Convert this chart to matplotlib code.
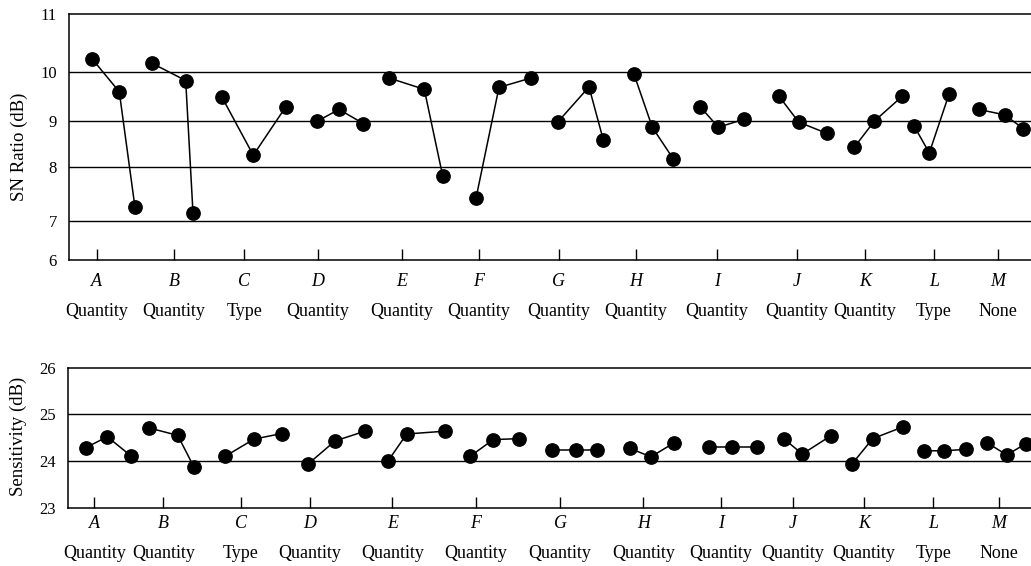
"""
Factor effect plots: SN ratio and sensitivity for factors A-M
"""

import matplotlib
matplotlib.use('Agg')
import matplotlib.pyplot as plt
import numpy as np

# Factors and their kind
factors = ['A', 'B', 'C', 'D', 'E', 'F', 'G', 'H', 'I', 'J', 'K', 'L', 'M']
factor_types = ['Quantity', 'Quantity', 'Type', 'Quantity', 'Quantity', 'Quantity',
                'Quantity', 'Quantity', 'Quantity', 'Quantity', 'Quantity', 'Type', 'None']

# SN ratio (dB), three levels per factor
sn_ratio = [
    [10.22, 9.59, 7.25], [10.15, 9.82, 7.15], [9.49, 8.26, 9.29],
    [8.99, 9.23, 8.94], [9.87, 9.64, 7.84], [7.42, 9.68, 9.87],
    [8.97, 9.69, 8.59], [9.95, 8.86, 8.18], [9.29, 8.86, 9.03],
    [9.50, 8.97, 8.73], [8.43, 8.99, 9.50], [8.89, 8.31, 9.54],
    [9.23, 9.12, 8.83],
]
# horizontal position of each level along the axis (as drawn in the source)
sn_level_x = [
    [2.30, 5.00, 6.57], [8.24, 11.64, 12.37], [15.24, 18.40, 21.67],
    [24.80, 26.97, 29.40], [32.00, 35.50, 37.34], [40.67, 42.97, 46.14],
    [48.84, 51.97, 53.40], [56.47, 58.30, 60.40], [63.07, 64.90, 67.50],
    [70.97, 72.94, 75.74], [78.50, 80.50, 83.30], [84.47, 86.00, 87.97],
    [90.94, 93.54, 95.40],
]
sn_factor_x = [2.74, 10.47, 17.50, 24.84, 33.24, 40.97, 48.94,
               56.67, 64.74, 72.74, 79.57, 86.47, 92.84]
sn_ticks = [6, 7, 8, 9, 10, 11]
# the printed axis is not evenly spaced; where each tick value sits on it
sn_tick_pos = [6.0, 6.80, 7.886, 8.835, 9.832, 11.0]

# Sensitivity (dB)
sensitivity = [
    [24.29, 24.52, 24.11], [24.71, 24.55, 23.87], [24.10, 24.47, 24.59],
    [23.94, 24.43, 24.64], [24.01, 24.58, 24.64], [24.10, 24.46, 24.48],
    [24.23, 24.23, 24.23], [24.27, 24.09, 24.39], [24.31, 24.31, 24.31],
    [24.47, 24.15, 24.54], [23.93, 24.48, 24.73], [24.22, 24.22, 24.25],
    [24.39, 24.13, 24.37],
]
sens_level_x = [
    [1.77, 3.90, 6.27], [8.07, 10.94, 12.57], [15.67, 18.57, 21.34],
    [24.00, 26.67, 29.67], [32.00, 33.84, 37.67], [40.17, 42.50, 45.07],
    [48.40, 50.74, 52.84], [56.17, 58.27, 60.57], [64.07, 66.34, 68.90],
    [71.60, 73.40, 76.24], [78.34, 80.44, 83.44], [85.57, 87.60, 89.74],
    [91.90, 93.84, 95.74],
]
sens_factor_x = [2.60, 9.50, 17.24, 24.17, 32.40, 40.77, 49.17,
                 57.50, 65.27, 72.44, 79.57, 86.50, 93.07]
sens_ticks = [23, 24, 25, 26]

FONT = 'Liberation Serif'


def draw_panel(ax, values, level_x, factor_x, ticks, ylabel_text,
               letter_off, word_off):
    for xs, ys in zip(level_x, values):
        ax.plot(xs, ys, color='black', linewidth=1.1, marker='o',
                markersize=9.6, clip_on=False, zorder=3)

    # horizontal reference lines at every inner tick value
    for t in ticks[1:-1]:
        ax.axhline(t, color='black', linewidth=1.0, zorder=1)

    ax.set_ylim(ticks[0], ticks[-1])
    ax.set_yticks(ticks)
    ax.set_yticklabels([str(t) for t in ticks], fontsize=12, family=FONT)
    ax.tick_params(axis='y', length=0, pad=9)

    ax.set_xticks(factor_x)
    ax.set_xticklabels([])
    ax.tick_params(axis='x', direction='in', length=7.7, width=1.0)

    for spine in ['top', 'left', 'bottom']:
        ax.spines[spine].set_linewidth(1.1)
    ax.spines['right'].set_visible(False)

    for x, name, kind in zip(factor_x, factors, factor_types):
        ax.annotate(name, (x, 0), xycoords=('data', 'axes fraction'),
                    xytext=(0, letter_off), textcoords='offset points',
                    ha='center', va='center', fontsize=13, family=FONT,
                    fontstyle='italic')
        ax.annotate(kind, (x, 0), xycoords=('data', 'axes fraction'),
                    xytext=(0, word_off), textcoords='offset points',
                    ha='center', va='center', fontsize=13, family=FONT)


def main():
    fig = plt.figure(figsize=(10.31, 5.66), dpi=100)

    # SN ratio panel
    ax1 = fig.add_axes([0.0672, 0.5406, 0.9328, 0.4341])
    fwd = lambda v: np.interp(v, sn_ticks, sn_tick_pos)
    inv = lambda s: np.interp(s, sn_tick_pos, sn_ticks)
    ax1.set_yscale('function', functions=(fwd, inv))
    ax1.set_xlim(0, 96.17)
    draw_panel(ax1, sn_ratio, sn_level_x, sn_factor_x, sn_ticks,
               'SN Ratio (dB)', -15.6, -37.2)

    # Sensitivity panel
    ax2 = fig.add_axes([0.06625, 0.1030, 0.93375, 0.2473])
    ax2.set_xlim(0, 96.27)
    draw_panel(ax2, sensitivity, sens_level_x, sens_factor_x, sens_ticks,
               'Sensitivity (dB)', -11.2, -32.8)

    fig.text(19 / 1031, 1 - 146.7 / 566, 'SN Ratio (dB)', rotation=90,
             ha='center', va='center', fontsize=13.5, family=FONT)
    fig.text(18.5 / 1031, 1 - 436.7 / 566, 'Sensitivity (dB)', rotation=90,
             ha='center', va='center', fontsize=13.5, family=FONT)

    fig.savefig('out.png', dpi=100)


if __name__ == "__main__":
    main()
